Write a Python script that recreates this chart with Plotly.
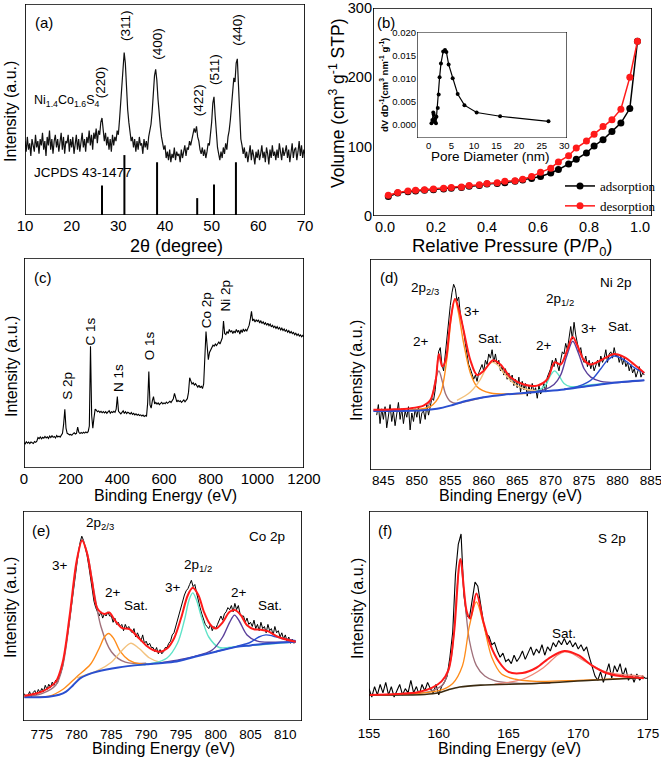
import numpy as np
import plotly.graph_objects as go

W, H = 661, 759
FONT = "Liberation Sans, Arial, sans-serif"
SERIF = "Liberation Serif, Times New Roman, serif"

RED = "#ff1a1a"; MAUVE = "#a0707a"; ORANGE = "#ff8c1a"; LIGHTOR = "#f3c27e"
CYAN = "#5fe3c8"; INDIGO = "#5a3f9a"; BLUE = "#2a4fd0"; SALMON = "#f08878"; BGDARK = "#3a2a10"

# ---------------- (a) XRD ----------------
xrd_start, xrd_step = 10.0, 0.25
xrd_int = [
    35,30,37,31, 34,28,36,33, 30,38,32,35, 29,36,33,39, 31,35,28,37,
    33,40,31,36, 29,35,38,32, 36,30,34,39, 31,37,29,35, 34,38,30,36,
    32,37,29,35, 38,31,36,30, 35,39,32,36, 30,37,34,40, 33,38,31,39,
    36,41,34,40, 38,44,46,40, 35,39,33,37, 31,36,30,38, 33,37,35,40,
    38,45,52,62, 70,77,72,60, 50,44,39,35, 37,32,36,30, 35,31,37,33,
    34,29,36,32, 35,31,37,40, 43,49,58,66, 69,64,55,47, 42,37,34,31,
    33,27,30,26, 31,25,29,27, 32,26,30,28, 29,25,31,27, 30,33,28,32,
    31,35,33,36, 38,41,39,42, 37,35,31,29, 32,28,31,27, 30,34,33,38,
    44,53,56,47, 38,32,29,26, 30,27,32,29, 34,31,37,40, 45,52,60,65,
    63,72,74,60, 45,36,33,29, 32,27,30,25, 29,33,26,31, 28,24,30,27,
    31,26,29,33, 27,30,25,32, 29,24,31,27, 33,28,30,26, 31,27,34,29,
    26,32,28,30, 33,27,31,25, 29,34,27,31, 32,26,30,35, 28,33,27,31,
    29]
jcpds_pos = [26.5, 31.3, 38.3, 46.9, 50.5, 55.2]
jcpds_h = [14, 28.4, 25, 8, 14.5, 25]
hkl_labels = ["(220)", "(311)", "(400)", "(422)", "(511)", "(440)"]
hkl_x = [26.1, 31.4, 38.2, 47.1, 50.6, 55.5]
hkl_y = [63, 90, 81, 54.5, 69, 88]

# ---------------- (b) BET ----------------
p_ads = [0.013,0.05,0.09,0.12,0.155,0.19,0.23,0.26,0.30,0.33,0.37,0.40,0.44,0.47,0.51,0.54,0.575,0.61,0.65,0.68,0.72,0.75,0.79,0.82,0.855,0.89,0.925,0.96,0.99]
v_ads = [28,33,35,36,37,38,39,40,41,43,44,46,47,48,50,52,54,57,62,67,75,82,91,101,110,122,134,155,252]
p_des = p_ads
v_des = [30,34,36,37,38,39,40,41,42,44,45,47,48,50,51,53,57,63,69,78,87,98,108,118,129,139,154,200,252]
pore_d = [0.6,0.8,1.0,1.1,1.3,1.4,1.6,1.7,2.0,2.2,2.4,2.7,3.2,3.6,3.9,4.4,5.3,6.4,7.9,10.6,15.8,26.5]
pore_dv = [0.0004,0.0011,0.0027,0.0023,0.0007,0.0014,0.0004,0.0018,0.0037,0.0066,0.0103,0.0133,0.0159,0.0162,0.0158,0.0131,0.0101,0.0067,0.0043,0.0027,0.0019,0.0008]

# ---------------- (c) XPS survey ----------------
sv_start, sv_step = 0.0, 5.0
sv_int = [
    12,11.5,12.5,11.8,12.3,11.6,12.4,12,11.7,12.6,
    12.2,12.8,14.5,14,14.8,13.9,14.6,14.2,15,14.3,
    14.8,14.1,15.2,14.5,15.4,14.6,15,14.3,15.5,14.8,
    15.2,14.7,15.6,16.5,21,28,19,16.5,16.2,15.8,
    16,15.6,16.3,16.8,16.2,16.5,19.5,17,16.4,16.9,
    16.5,17,16.6,17.2,16.8,17.3,20,58,25,19,
    24,28,27.5,26.8,27.2,26.5,27,26.3,26.9,26.2,
    26.8,26,26.7,27.3,26.1,26.8,26.4,27,26.5,28,
    34,27,26.4,25.8,26.5,27.2,26,26.8,25.9,26.6,
    26.2,25.7,26.4,25.5,26,25.3,25.8,25.1,25.6,25,
    25.3,24.8,25.2,24.5,25,24.6,31,46,30,28.5,
    32,34,30.5,31.2,30.4,31,30.2,30.8,31.3,30.5,
    31,30.6,31.4,30.8,31.2,31.8,31.2,32,33,35.5,
    33,31.5,32.2,31.6,32,31.2,31.8,32.4,31.5,32.6,
    33,36,43,41.5,40,40.6,39.5,40.2,39,38.5,
    39.4,38.2,39,37.8,40,52,65,58,51.6,55,
    56,57,58.5,58,59,58.3,59.5,60,59,61,
    62,70,64,63.5,65,64,66,64.7,65.5,64,
    65.2,64.3,66,64.8,65.5,63.8,65.8,64.5,66.2,65,
    66,65.3,67,68,71,74.6,70,71,69.5,70.5,
    69.8,70.5,69,70.2,68.8,69.6,68.5,69.2,68,68.9,
    67.8,68.5,67.2,68,66.9,67.5,66.5,67.3,66.2,66.9,
    65.8,66.6,65.5,66.2,65,65.8,64.7,65.4,64.2,65,
    64,64.6,63.5,64.2,63.1,63.8,62.8,63.4,62.5,63.2,
    62.5]
sv_lab = ["S 2p", "C 1s", "N 1s", "O 1s", "Co 2p", "Ni 2p"]
sv_lab_x = [183, 283, 404, 536, 783, 864]
sv_lab_y = [39, 65, 43, 58, 75, 82]

# ---------------- (d) Ni 2p ----------------
ni_start, ni_step = 844.0, 0.25
ni_raw = [
    26,31,22,29, 24,30,20,27, 31,23,28,21, 27,32,24,29, 22,28,25,30,
    19,27,23,29, 25,30,22,27, 28,24,31,26, 30,34,33,38, 47,56,58,50,
    47,55,62,72, 78,84,88,86, 80,82,74,70, 66,60,55,50, 48,45,43,45,
    42,46,48,50, 47,52,50,55, 53,57,51,55, 50,52,47,49, 45,48,43,46,
    42,45,40,43, 39,44,37,42, 38,41,35,40, 36,41,37,39, 34,40,36,38,
    41,37,44,46, 48,52,49,53, 50,47,52,56, 55,60,57,63, 68,62,70,64,
    60,56,58,53, 51,54,49,52, 48,51,47,50, 52,49,54,51, 53,57,51,55,
    56,53,58,54, 55,51,54,50, 53,49,51,47, 50,46,48,44, 47,49,44,46,
    45]
ni_fit_x = [843.5,846,849,851,852,852.8,853.3,853.8,854.3,855,855.7,856.3,857,858,859,860,861.4,862.5,864,866,868,869.5,870.6,871.5,872.5,873.3,874,875,876,877.5,879.5,881,882.5,884]
ni_fit_y = [28.5,28.7,29.2,30.5,33,42,55,49,52,70,81,76,66,52,45,47,52,50,44,40.5,40,43,51,50,57,63,59,52,50,52,55,53.5,50,46]
ni_bg_x = [843.5,848,851,853,855,857,860,863,866,869,872,875,878,881,884]
ni_bg_y = [28,28,28.3,29,30.5,32.5,34.5,35.7,36.5,37.3,38.2,39.5,40.8,41.8,42.5]
ni_c1_x = [850,851.5,852.3,852.8,853.3,853.8,854.3,855,856,857.5,860]
ni_c1_y = [28.2,29.5,35,43,47,42,36,32.5,31.5,32.6,34.5]
ni_c2_x = [849,852,853.5,854.5,855.2,855.7,856.2,857,858,859,861,864,867]
ni_c2_y = [28.5,30,36,53,74,81,75,60,46,39.5,36.5,36,36.5]
ni_c3_x = [856,858,859.5,860.5,861.3,862,863,864.5,866,868]
ni_c3_y = [33,37,43,49,51,50,46,41,38.5,37.5]
ni_c4_x = [866,868,869.3,870,870.6,871.2,872,873,875,878]
ni_c4_y = [36.5,37.5,40.5,45,47,45,41,39.5,40,41]
ni_c5_x = [866,869,870.5,871.5,872.4,873.3,874.2,875,876,877.5,880,884]
ni_c5_y = [36.5,38,40.5,45,54,61,55,48,44,42,41.5,42.5]
ni_c6_x = [872,874,875.5,876.5,877.5,878.5,879.5,880.5,881.5,882.5,884]
ni_c6_y = [38.3,39.5,41.5,44,48,52,54,53,51,48.5,46]

# ---------------- (e) Co 2p ----------------
co_start, co_step = 772.5, 0.25
co_raw = [
    13,11,
    12,14,11.5,13.5, 14.5,12.5,15,13.5, 15.5,14,17,15, 17.5,16,18.5,17, 19.5,18,21,23,
    26,31,35,42, 48,55,62,68, 75,80,85,88, 86,83,79,74, 68,62,57,54,
    52,50,52,49, 51,50,52,50, 50,47,49,46, 47,45,46,43, 46,44,45,43,
    42,44,40,42, 40,38,41,37, 38,36,37,35, 35,33,35,32, 34,32,33,35,
    35,37,38,41, 42,45,48,52, 54,57,60,62, 63,65,67,64, 65,61,57,54,
    51,48,46,45, 44,46,43,45, 44,46,48,50, 48,51,52,54, 53,55,52,56,
    53,55,51,50, 50,47,49,46, 47,45,48,44, 46,43,47,44, 45,42,46,43,
    44,41,45,42, 43,40,42,39, 41,38,40,37,
    39,37,38]
co_fit_x = [772.5,775,777,778,779,780,780.8,781.5,782.2,783,784,784.7,785.5,786.5,787.6,789,790,791,792,793,794,795,796,796.7,797.5,798.3,799.2,800,801,802,802.8,803.6,804.5,805.5,806.5,807.5,809,811.5]
co_fit_y = [12,14,18.7,28,50,76,86,80,67,53.6,51,51.7,48,44.4,43.7,39.3,36,33.8,33,34.5,39.3,48.8,60,63.4,60,52,46,44,47,52,52.8,50.4,45.6,43.7,43.5,42.8,40,37.7]
co_bg_x = [772.5,776,777.5,778.5,779.5,780.5,781.5,783,786,790,794,797,800,803,805,808,811.5]
co_bg_y = [11.3,11.6,12.5,14,17,20.3,22,23.6,25.5,27,28.2,30.6,33,35.3,36,37,37.7]
co_c1_x = [772.5,775,777,778,779,780,780.8,781.6,782.5,783.5,785,787,790]
co_c1_y = [11.5,13,17,26,48,75,86.5,79,62,45,33,28,27.5]
co_c2_x = [772.5,776,778,780,782,783.3,784,784.6,785.3,786.3,787.5,789,791]
co_c2_y = [11.3,11.8,15,21,27,35,40,41.7,39.5,33,29,27.3,27.2]
co_c3_x = [780,783,785,786.5,787.8,789,790.5,792,794]
co_c3_y = [20.5,24,28,33.5,37,34.5,30,28,28.3]
co_c4_x = [788,791,793,794.5,795.5,796.2,796.7,797.2,798,799,800.5,803,806,811.5]
co_c4_y = [26.5,27.5,30,37,48,58,61,58,49,40,35,35.5,36.2,37.7]
co_c5_x = [792,797,799.5,801,802,802.7,803.4,804.5,806,808,811.5]
co_c5_y = [27.7,30.8,33.8,40,47,50.4,47.5,41,38,37.5,37.8]
co_c6_x = [800,803,805,806.2,807.2,808.2,809.5,811.5]
co_c6_y = [33,35.5,37.5,40,41,40.5,39.3,38.3]

# ---------------- (f) S 2p ----------------
s_start, s_step = 155.0, 0.2
s_raw = [
    15,11,16,12,17, 13,18,12,16,11, 14,17,12,15,13, 19,13,16,12,17,
    14,18,15,13,17, 12,16,18,21,30, 42,70,84,89,60, 50,49,58,66,64,
    55,47,41,40,36, 37,33,30,32,28, 29,27,31,28,30, 33,29,32,35,31,
    34,32,36,31,35, 33,37,35,38,36, 39,36,38,35,37, 34,36,33,35,30,
    25,21,19,23,18, 22,27,20,26,23, 27,21,25,19,22, 18,22,19,21,20,
    20]
s_fit_x = [155,157,158.5,159.5,160.2,160.7,161.1,161.55,162,162.25,162.7,163.2,163.7,164.3,165,166,167,168,169,170,171,172,173,174.7]
s_fit_y = [12,12.5,13.3,15.4,18.5,24,42,77,52,48.5,60.5,47,36,28,23,22.5,25,30,33,31,26,22.5,21,20]
s_bg_x = [155,159,160,160.7,161.5,163,167,171,174.7]
s_bg_y = [12,12.2,13,14.5,15.8,16.7,17.5,19,20.2]
s_c1_x = [155,158,159.5,160.3,160.9,161.3,161.55,161.8,162.2,162.7,163.3,164,165.5,168]
s_c1_y = [12,12.4,14,17,30,62,76,62,38,26,21,18.8,17.6,17.7]
s_c2_x = [155,158,160,161,161.7,162.2,162.7,163.2,163.8,164.5,165.5,167,170,174.7]
s_c2_y = [12,12.5,14,17.5,26,45,56.5,46,30,22,19.5,18.5,19,20.4]
s_c3_x = [164,166,167.5,168.5,169,169.5,170.5,172,174.7]
s_c3_y = [17.2,19.5,25,31,32.6,32,28,23,21]


def grid(start, step, vals):
    return start + step * np.arange(len(vals))


def X(px):
    return px / W


def Y(py):
    return 1 - py / H


fig = go.Figure()


def line(x, y, ax, color, width=1.0, shape="linear", name=None, show=False, mode="lines", marker=None,
         clip=True):
    ld = dict(color=color, width=width, shape=shape)
    if shape == "spline":
        ld["smoothing"] = 0.9
    fig.add_trace(go.Scatter(x=list(x), y=list(y), xaxis="x" + ax, yaxis="y" + ax, mode=mode,
                             line=ld, marker=marker, name=name, showlegend=show, hoverinfo="skip",
                             cliponaxis=clip))


# (a)
line(grid(xrd_start, xrd_step, xrd_int), xrd_int, "", "#111111", 1.2)
sx, sy = [], []
for p, h in zip(jcpds_pos, jcpds_h):
    sx += [p, p, None]; sy += [0, h, None]
line(sx, sy, "", "black", 2.0)

# (b)
line(p_ads, v_ads, "2", "black", 1.5, mode="lines+markers", name="adsorption", show=True,
     marker=dict(color="black", size=7))
line(p_des, v_des, "2", RED, 1.5, mode="lines+markers", name="desorption", show=True,
     marker=dict(color=RED, size=7))
line(pore_d, pore_dv, "3", "black", 1.2, mode="lines+markers", marker=dict(color="black", size=4))

# (c)
line(grid(sv_start, sv_step, sv_int), sv_int, "4", "black", 1.1)

# (d)
line(grid(ni_start, ni_step, ni_raw), ni_raw, "5", "black", 1.0)
for cx, cy, col in [(ni_c1_x, ni_c1_y, MAUVE), (ni_c2_x, ni_c2_y, ORANGE), (ni_c3_x, ni_c3_y, LIGHTOR),
                    (ni_c4_x, ni_c4_y, CYAN), (ni_c5_x, ni_c5_y, INDIGO), (ni_c6_x, ni_c6_y, BLUE)]:
    line(cx, cy, "5", col, 1.4, "spline")
line(ni_bg_x, ni_bg_y, "5", BLUE, 2.0, "spline")
line(ni_fit_x, ni_fit_y, "5", RED, 2.0, "spline")

# (e)
line(grid(co_start, co_step, co_raw), co_raw, "6", "black", 1.0)
for cx, cy, col in [(co_c1_x, co_c1_y, MAUVE), (co_c2_x, co_c2_y, ORANGE), (co_c3_x, co_c3_y, LIGHTOR),
                    (co_c4_x, co_c4_y, CYAN), (co_c5_x, co_c5_y, INDIGO), (co_c6_x, co_c6_y, BLUE)]:
    line(cx, cy, "6", col, 1.4, "spline")
line(co_bg_x, co_bg_y, "6", BLUE, 2.0, "spline")
line(co_fit_x, co_fit_y, "6", RED, 2.0, "spline")

# (f)
line(grid(s_start, s_step, s_raw), s_raw, "7", "black", 1.1)
for cx, cy, col in [(s_c1_x, s_c1_y, MAUVE), (s_c2_x, s_c2_y, ORANGE), (s_c3_x, s_c3_y, SALMON)]:
    line(cx, cy, "7", col, 1.3, "spline")
line(s_bg_x, s_bg_y, "7", BGDARK, 1.6, "spline")
line(s_fit_x, s_fit_y, "7", RED, 2.0, "spline")

# ---------------- axes ----------------
panels = {
    "": dict(px=(25, 305), py=(4, 215), xr=[10, 70], yr=[0, 100], dt=10, mdt=5, tf=15, ylab=False, so=0),
    "2": dict(px=(373, 652), py=(8, 216), xr=[-0.047, 1.047], yr=[0, 300], dt=0.2, mdt=0.1, tf=14.5, ylab=True,
              ydt=100, ymdt=50, xfmt=".1f", so=0),
    "3": dict(px=(417, 567), py=(32, 138), xr=[-2.6, 30.6], yr=[-0.0028, 0.0201], dt=5, mdt=None, tf=9.5,
              ylab=True, ydt=0.005, ymdt=None, yfmt=".3f", so=0),
    "4": dict(px=(24, 304), py=(258, 468), xr=[0, 1200], yr=[0, 100], dt=200, mdt=100, tf=15, ylab=False, so=0),
    "5": dict(px=(370, 651), py=(259, 470), xr=[843, 885], yr=[0, 100], dt=5, mdt=2.5, tf=13.5, ylab=False, so=0),
    "6": dict(px=(23, 302), py=(511, 721), xr=[772.3, 812.4], yr=[0, 100], dt=5, mdt=2.5, tf=13.5, ylab=False,
              so=3),
    "7": dict(px=(369, 648), py=(511, 720), xr=[155, 175], yr=[0, 100], dt=5, mdt=2.5, tf=13.5, ylab=False, so=3),
}


def tick_values(lo, hi, step):
    first = np.ceil(lo / step - 1e-9) * step
    return [round(v, 6) for v in np.arange(first, hi + 1e-9, step)]


layout_axes = {}
for k, p in panels.items():
    inset = (k == "3")
    lw = 1.2 if inset else 1.7
    xdom = [X(p["px"][0]), X(p["px"][1])]
    ydom = [Y(p["py"][1]), Y(p["py"][0])]
    xa = dict(domain=xdom, range=p["xr"], anchor="y" + k, showline=False, ticks="", dtick=p["dt"], tick0=0,
              showgrid=False, zeroline=False, tickfont=dict(family=FONT, size=p["tf"], color="black"),
              automargin=False, ticklabelstandoff=p["so"], ticklabeloverflow="allow")
    if p.get("xfmt"):
        xa["tickformat"] = p["xfmt"]
    ya = dict(domain=ydom, range=p["yr"], anchor="x" + k, showline=False, showgrid=False, zeroline=False,
              automargin=False, ticks="", ticklabeloverflow="allow")
    if p["ylab"]:
        ya.update(dtick=p["ydt"], tick0=0, tickfont=dict(family=FONT, size=p["tf"], color="black"))
        if p.get("yfmt"):
            ya["tickformat"] = p["yfmt"]
    else:
        ya.update(showticklabels=False)
    layout_axes["xaxis" + k] = xa
    layout_axes["yaxis" + k] = ya

    # frame and tick marks drawn in the subplot's own data space
    x0, x1 = p["xr"]; y0, y1 = p["yr"]
    xpp = (x1 - x0) / (p["px"][1] - p["px"][0])   # data units per pixel
    ypp = (y1 - y0) / (p["py"][1] - p["py"][0])
    line([x0, x1, x1, x0, x0], [y0, y0, y1, y1, y0], k, "black", lw, clip=False)
    tl_major = 3.0 if inset else 4.5
    tx, ty = [], []
    for v in tick_values(x0, x1, p["dt"]):
        tx += [v, v, None]; ty += [y0, y0 - tl_major * ypp, None]
    if p["mdt"]:
        for v in tick_values(x0, x1, p["mdt"]):
            tx += [v, v, None]; ty += [y0, y0 - 2.5 * ypp, None]
    if p["ylab"]:
        for v in tick_values(y0, y1, p["ydt"]):
            tx += [x0, x0 - tl_major * xpp, None]; ty += [v, v, None]
        if p.get("ymdt"):
            for v in tick_values(y0, y1, p["ymdt"]):
                tx += [x0, x0 - 2.5 * xpp, None]; ty += [v, v, None]
    line(tx, ty, k, "black", 1.2, clip=False)

# ---------------- annotations ----------------
ann = []


def txt(x, y, s, size=14, xref="paper", yref="paper", angle=0, xanchor="center", family=FONT):
    ann.append(dict(x=x, y=y, xref=xref, yref=yref, text=s, showarrow=False, textangle=angle,
                    xanchor=xanchor, yanchor="middle", font=dict(family=family, size=size, color="black")))


for lab, (px, py) in {"(a)": (44, 23), "(b)": (386, 22), "(c)": (43, 277), "(d)": (389, 277),
                      "(e)": (41, 530), "(f)": (385, 530)}.items():
    txt(X(px), Y(py), lab, 15)

txt(X(176), Y(246), "2θ (degree)", 18)
txt(X(10), Y(112), "Intensity (a.u.)", 16, angle=-90)
txt(X(512), Y(247), "Relative Pressure (P/P<sub>0</sub>)", 18.5)
txt(X(337), Y(104), "Volume (cm<sup>3</sup> g<sup>-1</sup> STP)", 17.5, angle=-90)
txt(X(490), Y(156), "Pore Diameter (nm)", 13.5)
txt(X(384), Y(85), "<b>dV dD<sup>-1</sup>(cm<sup>3</sup> nm<sup>-1</sup> g<sup>-1</sup>)</b>", 9.5, angle=-90)
txt(X(165), Y(495), "Binding Energy (eV)", 16)
txt(X(12), Y(367), "Intensity (a.u.)", 16, angle=-90)
txt(X(510), Y(495), "Binding Energy (eV)", 16)
txt(X(357), Y(370), "Intensity (a.u.)", 16, angle=-90)
txt(X(163), Y(748), "Binding Energy (eV)", 16)
txt(X(10), Y(608), "Intensity (a.u.)", 16, angle=-90)
txt(X(509), Y(748), "Binding Energy (eV)", 16)
txt(X(357), Y(608), "Intensity (a.u.)", 16, angle=-90)

for s, x, y in zip(hkl_labels, hkl_x, hkl_y):
    txt(x, y, s, 13.5, "x", "y", angle=-90)
txt(X(32), Y(101), "Ni<sub>1.4</sub>Co<sub>1.6</sub>S<sub>4</sub>", 12.5, xanchor="left")
txt(X(32), Y(173), "JCPDS 43-1477", 13.5, xanchor="left")

for s, x, y in zip(sv_lab, sv_lab_x, sv_lab_y):
    txt(x, y, s, 13.5, "x4", "y4", angle=-90)

for s, x, y in [("2p<sub>2/3</sub>", 851.2, 86), ("2+", 850.6, 61), ("3+", 858.2, 75), ("Sat.", 861, 62.5),
                ("2p<sub>1/2</sub>", 871.4, 80.7), ("2+", 869, 59), ("3+", 875.7, 67), ("Sat.", 880.3, 68),
                ("Ni 2p", 879.8, 89)]:
    txt(x, y, s, 13.5, "x5", "y5")

for s, x, y in [("2p<sub>2/3</sub>", 783.4, 94), ("3+", 777.6, 74), ("2+", 785.3, 61), ("Sat.", 788.6, 55),
                ("3+", 793.8, 63.4), ("2p<sub>1/2</sub>", 797.5, 74), ("2+", 803.3, 61), ("Sat.", 807.8, 55),
                ("Co 2p", 807.4, 88)]:
    txt(x, y, s, 13.5, "x6", "y6")

txt(172.4, 86.8, "S 2p", 13.5, "x7", "y7")
txt(169, 41.4, "Sat.", 13.5, "x7", "y7")

fig.update_layout(
    width=W, height=H, margin=dict(l=0, r=0, t=0, b=0), paper_bgcolor="white", plot_bgcolor="white",
    font=dict(family=FONT, color="black"),
    annotations=ann,
    legend=dict(x=X(560), y=Y(171), xanchor="left", yanchor="top", bgcolor="rgba(0,0,0,0)",
                font=dict(family=SERIF, size=13, color="black"), itemwidth=30, tracegroupgap=0),
    **layout_axes,
)
fig.write_html("out.html", config={"displayModeBar": False},
               post_script="document.body.style.margin='0';document.body.style.padding='0';")
